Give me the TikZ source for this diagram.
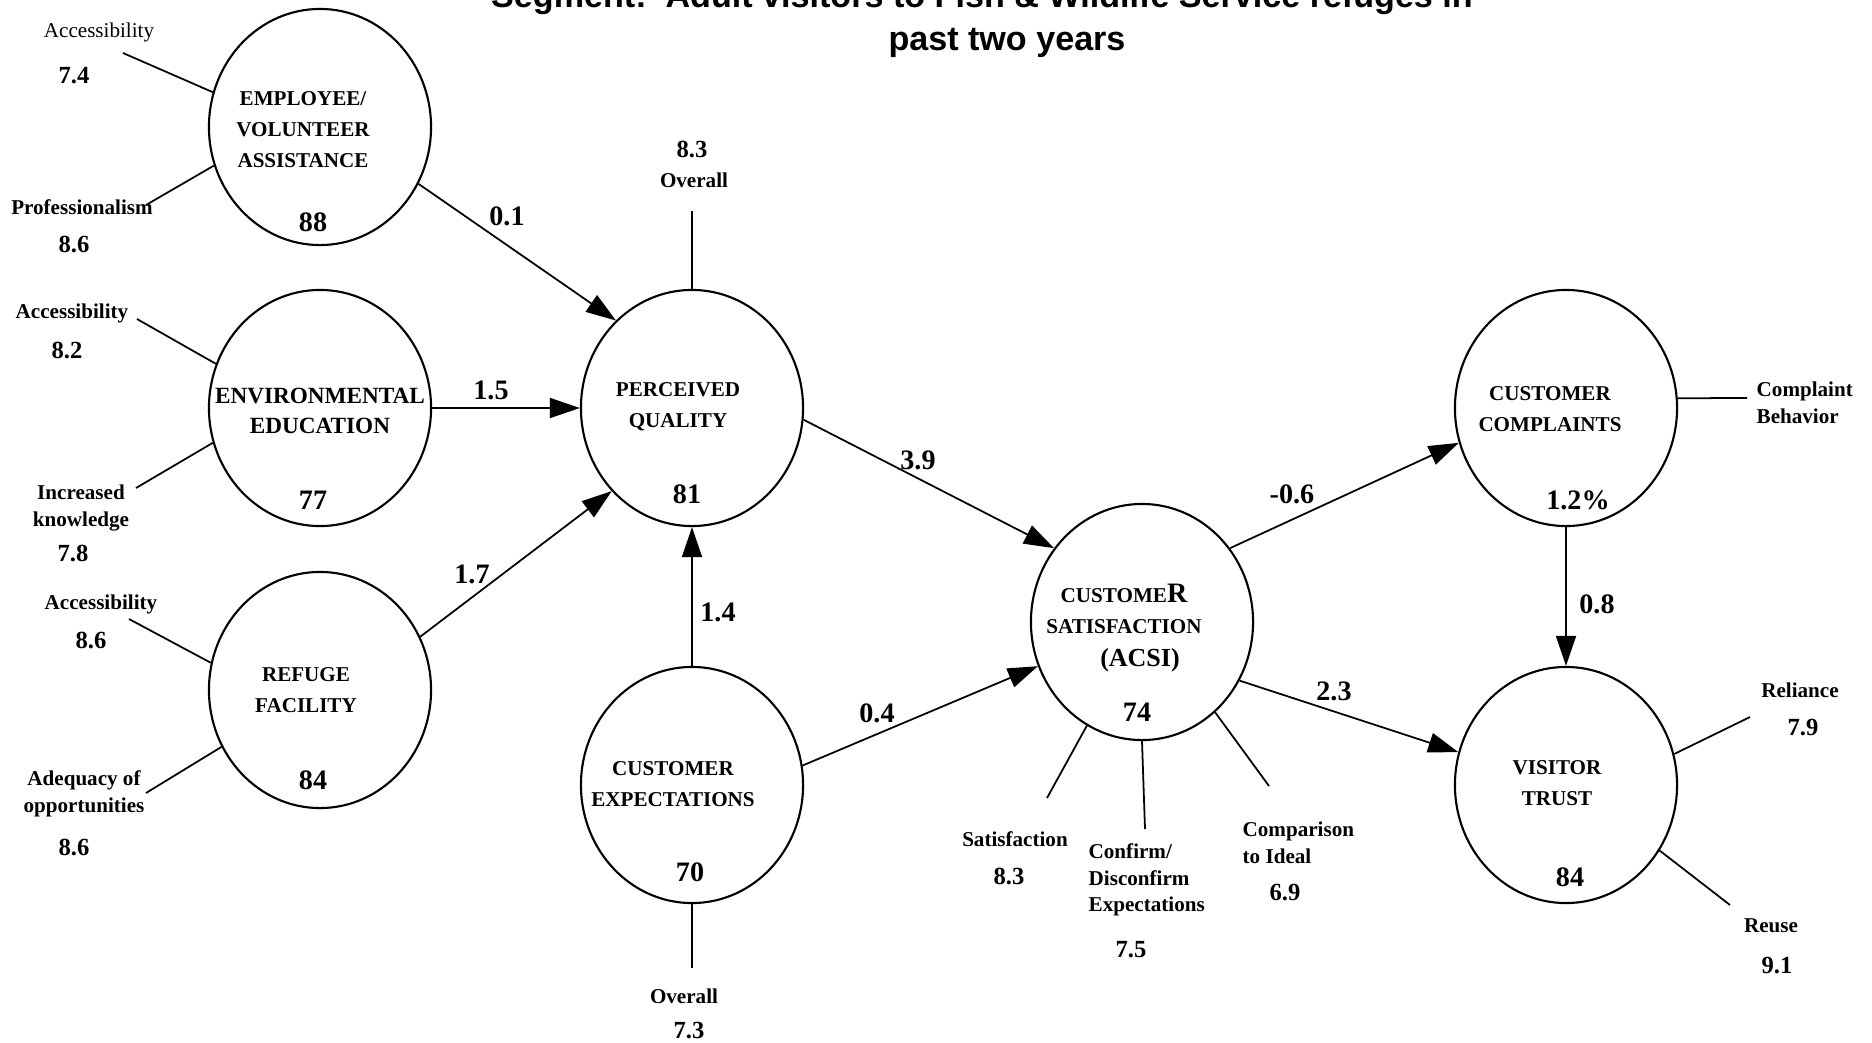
\documentclass[tikz,border=0pt]{standalone}
\usepackage{fontspec}
\setmainfont{Liberation Serif}
\newfontfamily\titlefont{Liberation Sans}
\usepackage{tikz}
\usetikzlibrary{shapes.geometric,arrows.meta}

\begin{document}
\begin{tikzpicture}[x=0.01cm,y=-0.01cm,
  latent/.style={draw,ellipse,line width=0.6pt,minimum width=2.22cm,minimum height=2.36cm,inner sep=0pt},
  lname/.style={font=\bfseries\fontsize{6}{8.8}\selectfont,align=center,inner sep=0pt},
  lscore/.style={font=\bfseries\fontsize{8}{9}\selectfont,inner sep=0pt},
  ind/.style={font=\bfseries\fontsize{6}{7.6}\selectfont,align=center,inner sep=0pt},
  indval/.style={font=\bfseries\fontsize{7}{8}\selectfont,inner sep=0pt},
  coef/.style={font=\bfseries\fontsize{8}{9}\selectfont,inner sep=0pt},
  link/.style={-{Triangle[length=3mm,width=2mm]},line width=0.5pt},
  spoke/.style={line width=0.5pt}]
\useasboundingbox (0,0) rectangle (1872,1042);

% title (first line runs off the top)
\node[font=\titlefont\bfseries\fontsize{9.7}{11}\selectfont,anchor=base] (title1) at (982,7)
  {Segment:\ \ Adult visitors to Fish \& Wildlife Service refuges in};
\node[font=\titlefont\bfseries\fontsize{9.7}{11}\selectfont,anchor=base] (title2) at (1007,50)
  {past two years};

% latent variables
\node[latent] (emp) at (320,127) {};
\node[latent] (edu) at (320,408) {};
\node[latent] (fac) at (320,690) {};
\node[latent] (qual) at (692,408) {};
\node[latent] (expt) at (692,785) {};
\node[latent] (sat) at (1142,622) {};
\node[latent] (compl) at (1566,408) {};
\node[latent] (trust) at (1566,785) {};

\node[lname] (empname) at (303,130) {EMPLOYEE/\\VOLUNTEER\\ ASSISTANCE};
\node[lscore] (empscore) at (313,222) {88};
\node[lname,font=\bfseries\fontsize{6.6}{8.4}\selectfont] (eduname) at (320,411) {ENVIRONMENTAL\\EDUCATION};
\node[lscore] (eduscore) at (313,500) {77};
\node[lname] (facname) at (306,690) {REFUGE\\FACILITY};
\node[lscore] (facscore) at (313,780) {84};
\node[lname] (qualname) at (678,407) {PERCEIVED\\QUALITY};
\node[lscore] (qualscore) at (687,494) {81};
\node[lname] (exptname) at (673,784) {CUSTOMER\\EXPECTATIONS};
\node[lscore] (exptscore) at (690,872) {70};
\node[lname] (satname) at (1124,609) {CUSTOME{\fontsize{8}{8}\selectfont R}\\SATISFACTION};
\node[lname,font=\bfseries\fontsize{7.4}{8}\selectfont] (satacsi) at (1140,660) {(ACSI)};
\node[lscore] (satscore) at (1137,712) {74};
\node[lname] (complname) at (1550,409) {CUSTOMER\\COMPLAINTS};
\node[lscore] (complscore) at (1578,500) {1.2\%};
\node[lname] (trustname) at (1557,783) {VISITOR\\TRUST};
\node[lscore] (trustscore) at (1570,877) {84};

% paths between latent variables
\draw[link] (emp.-30.6) -- (qual.131.8);
\draw[link] (edu.east) -- (qual.west);
\draw[link] (fac.28.4) -- (qual.-134.3);
\draw[link] (expt.north) -- (qual.south);
\draw[link] (qual.-6.6) -- (sat.140.5);
\draw[link] (expt.10.2) -- (sat.203);
\draw[link] (sat.40.4) -- (compl.198);
\draw[link] (sat.-31.3) -- (trust.163);
\draw[link] (compl.south) -- (trust.north);

\node[coef] (c1) at (507,216) {0.1};
\node[coef] (c2) at (491,390) {1.5};
\node[coef] (c3) at (472,574) {1.7};
\node[coef] (c4) at (718,612) {1.4};
\node[coef] (c5) at (918,460) {3.9};
\node[coef] (c6) at (877,713) {0.4};
\node[coef] (c7) at (1292,494) {-0.6};
\node[coef] (c8) at (1334,691) {2.3};
\node[coef] (c9) at (1597,604) {0.8};

% measures
\coordinate (m1) at (123,53);
\coordinate (m2) at (146,205);
\coordinate (m3) at (137,319);
\coordinate (m4) at (136,488);
\coordinate (m5) at (129,619);
\coordinate (m6) at (146,793);
\coordinate (m7) at (692,211);
\coordinate (m8) at (692,968);
\coordinate (m9) at (1047,798);
\coordinate (m10) at (1145,829);
\coordinate (m11) at (1269,786);
\coordinate (m12) at (1747,398);
\coordinate (m13) at (1750,717);
\coordinate (m14) at (1730,905);
\draw[spoke] (emp.162.5) -- (m1);
\draw[spoke] (emp.200.5) -- (m2);
\draw[spoke] (edu.157) -- (m3);
\draw[spoke] (edu.198) -- (m4);
\draw[spoke] (fac.166.7) -- (m5);
\draw[spoke] (fac.210.6) -- (m6);
\draw[spoke] (qual.north) -- (m7);
\draw[spoke] (expt.south) -- (m8);
\draw[spoke] (sat.242.3) -- (m9);
\draw[spoke] (sat.south) -- (m10);
\draw[spoke] (sat.-51.3) -- (m11);
\draw[spoke] (compl.5) -- (m12);
\draw[spoke] (trust.16) -- (m13);
\draw[spoke] (trust.-35.6) -- (m14);

\node[ind,font=\fontsize{6}{7.6}\selectfont] (empacc) at (99,32) {Accessibility};
\node[indval] (empaccv) at (74,76) {7.4};
\node[ind] (empprof) at (82,207) {Professionalism};
\node[indval] (empprofv) at (74,244) {8.6};
\node[ind] (eduacc) at (72,313) {Accessibility};
\node[indval] (eduaccv) at (67,350) {8.2};
\node[ind] (eduknow) at (81,508) {Increased\\knowledge};
\node[indval] (eduknowv) at (73,553) {7.8};
\node[ind] (facacc) at (101,604) {Accessibility};
\node[indval] (facaccv) at (91,640) {8.6};
\node[ind] (facadq) at (84,794) {Adequacy of\\opportunities};
\node[indval] (facadqv) at (74,847) {8.6};
\node[indval] (qualallv) at (692,149) {8.3};
\node[ind] (qualall) at (694,180) {Overall};
\node[ind] (exptall) at (684,996) {Overall};
\node[indval] (exptallv) at (689,1031) {7.3};
\node[ind] (satsat) at (1015,839) {Satisfaction};
\node[indval] (satsatv) at (1009,876) {8.3};
\node[ind,align=left,anchor=west] (satconf) at (1088,880) {Confirm/\\Disconfirm\\Expectations};
\node[indval] (satconfv) at (1131,950) {7.5};
\node[ind,align=left,anchor=west] (satideal) at (1242,843) {Comparison\\to Ideal};
\node[indval] (satidealv) at (1285,893) {6.9};
\node[ind,align=left,anchor=west] (complbeh) at (1756,403) {Complaint\\Behavior};
\node[ind] (trustrel) at (1800,690) {Reliance};
\node[indval] (trustrelv) at (1803,728) {7.9};
\node[ind] (trustreu) at (1771,926) {Reuse};
\node[indval] (trustreuv) at (1777,966) {9.1};
\end{tikzpicture}
\end{document}
